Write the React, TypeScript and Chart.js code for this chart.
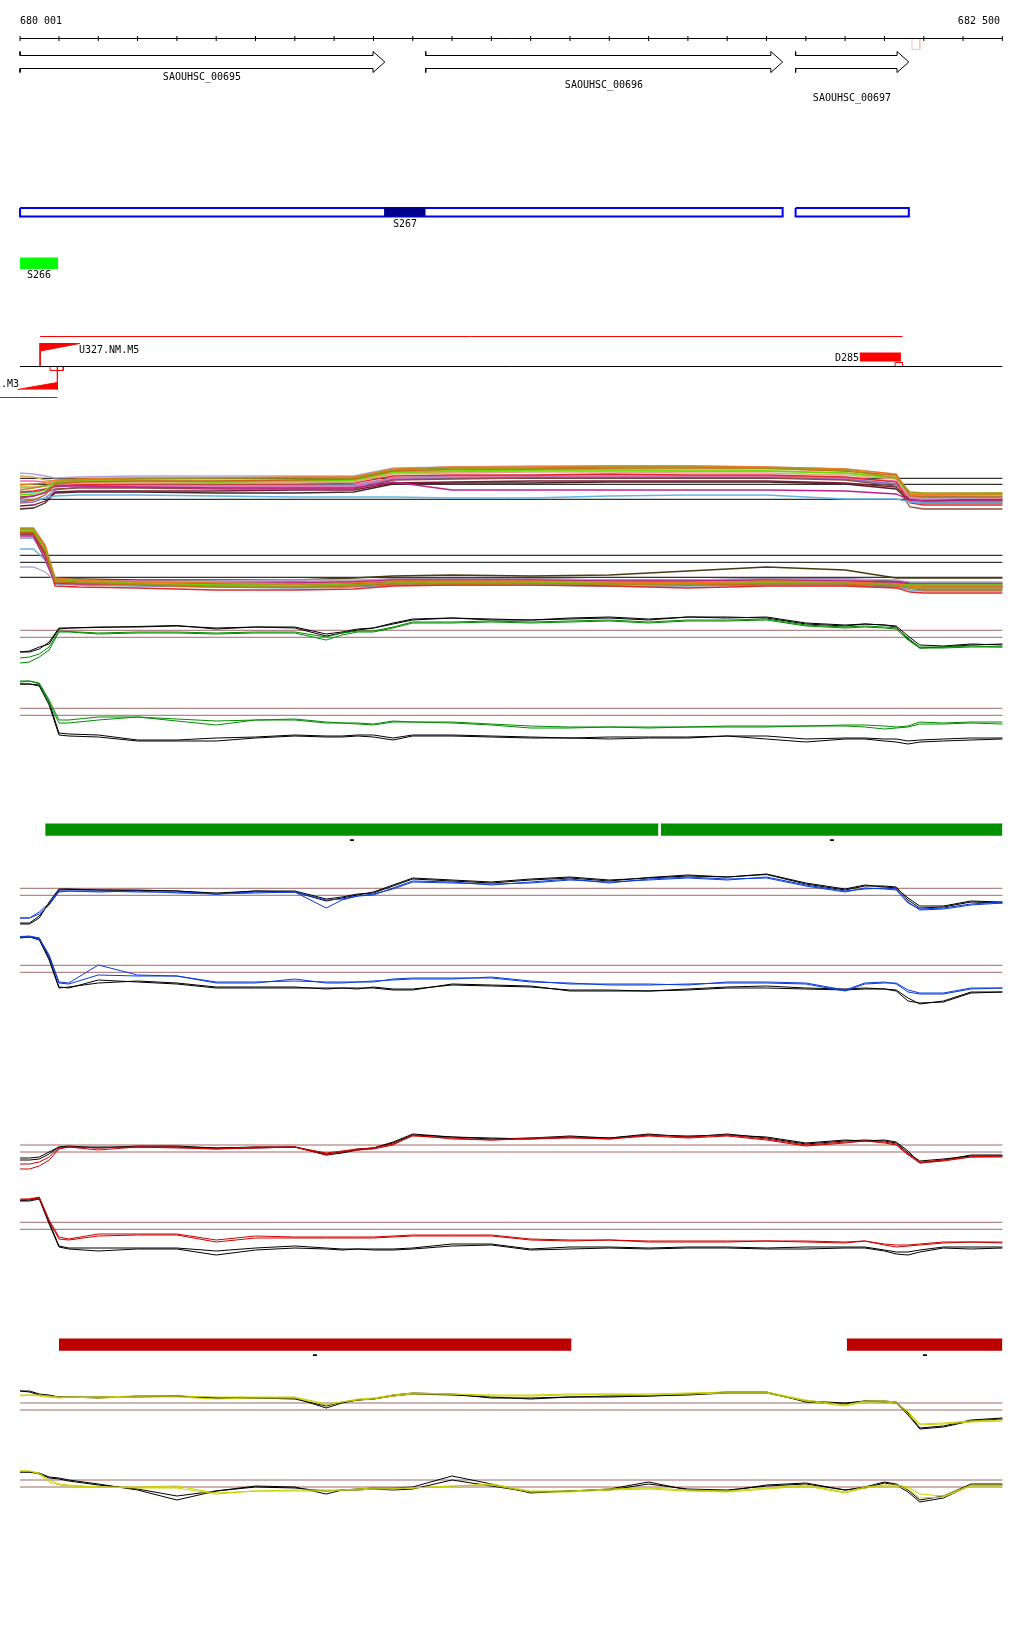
import React, { useEffect, useRef } from "react";
import { Chart, registerables } from "chart.js";
Chart.register(...registerables);

const FONT = '10px "DejaVu Sans Mono", monospace';
const DASH_FONT = 'bold 13px "DejaVu Sans Mono", monospace';

// ---------- genomic window ----------
const VIEW_START = 679950;
const VIEW_END = 682555;
const RULER_START = 680001;
const RULER_END = 682500;
const RULER_TICKS = [680001, 680100, 680200, 680300, 680400, 680500, 680600, 680700, 680800, 680900, 681000, 681100, 681200, 681300, 681400, 681500, 681600, 681700, 681800, 681900, 682000, 682100, 682200, 682300, 682400, 682500];
const RULER_LABELS = ["680 001", "682 500"];

// ---------- genes ----------
const GENE_NAMES = ["SAOUHSC_00695", "SAOUHSC_00696", "SAOUHSC_00697"];
const GENE_STARTS = [680001, 681033, 681974];
const GENE_ENDS = [680929, 681941, 682262];
const MARKER_RANGE = [682270, 682290];

// ---------- transcripts / segments ----------
const TRANSCRIPT_STARTS = [680001, 681974];
const TRANSCRIPT_ENDS = [681941, 682262];
const S267_RANGE = [680927, 681033];
const S266_RANGE = [680001, 680098];
const SEGMENT_NAMES = ["S267", "S266"];

// ---------- UTR / operon features ----------
const OPERON_RANGE = [680052, 682246];
const U327_RANGE = [680052, 680153];
const U327_BOX = [680077, 680111];
const M3_RANGE = [679995, 680096];
const M3_LINE = [679950, 680096];
const D285_RANGE = [682137, 682242];
const D285_BOX = [682227, 682246];
const FEATURE_NAMES = ["U327.NM.M5", ".M3", "D285"];

// ---------- bar tracks ----------
const GREEN_BAR_STARTS = [680065, 681631];
const GREEN_BAR_ENDS = [681625, 682500];
const RED_BAR_STARTS = [680100, 682104];
const RED_BAR_ENDS = [681404, 682500];
const BAR_LABEL = "-";

// ---------- expression: multi-sample tracks ----------
const MPOS = [680001, 680035, 680065, 680090, 680150, 680300, 680500, 680700, 680850, 680950, 681100, 681300, 681500, 681700, 681900, 682100, 682230, 682265, 682300, 682400, 682500];
const SAMPLE_COLORS = ["#9a9a1a", "#f07820", "#c8641e", "#60e000", "#c0208a", "#b4a4d4", "#64b4e6", "#e8a08c", "#e02828", "#8c5040", "#801838", "#e870b0", "#d4aa5a", "#8a6cc8", "#a8c828", "#402828", "#7894c4"];

const M1_S1 = [3.0, 3.2, 3.4, 3.8, 4.0, 4.1, 4.2, 4.2, 4.2, 5.0, 5.2, 5.2, 5.3, 5.3, 5.2, 5.0, 4.2, 2.8, 2.7, 2.7, 2.7];
const M1_S2 = [3.5, 3.6, 3.7, 4.0, 4.1, 4.2, 4.2, 4.3, 4.3, 5.1, 5.3, 5.3, 5.4, 5.4, 5.3, 5.1, 4.6, 2.6, 2.5, 2.6, 2.6];
const M1_S3 = [1.8, 2.0, 2.5, 3.6, 3.8, 3.9, 3.9, 4.0, 4.1, 4.9, 5.1, 5.1, 5.2, 5.2, 5.2, 4.9, 4.5, 2.4, 2.3, 2.3, 2.3];
const M1_S4 = [2.5, 2.6, 3.0, 3.7, 3.9, 3.9, 3.8, 3.9, 4.0, 4.8, 4.9, 5.0, 5.0, 4.9, 4.9, 4.7, 4.2, 2.5, 2.4, 2.5, 2.6];
const M1_S5 = [2.2, 2.4, 2.8, 3.4, 3.4, 3.3, 3.2, 3.2, 3.2, 3.8, 3.0, 3.0, 3.0, 3.0, 3.0, 2.9, 2.6, 2.0, 1.9, 1.9, 1.9];
const M1_S6 = [4.7, 4.6, 4.4, 4.2, 4.3, 4.4, 4.4, 4.4, 4.4, 5.2, 5.3, 5.4, 5.4, 5.4, 5.3, 5.1, 4.6, 2.3, 2.2, 2.2, 2.3];
const M1_S7 = [2.0, 2.0, 2.2, 2.4, 2.5, 2.5, 2.4, 2.3, 2.3, 2.3, 2.2, 2.2, 2.4, 2.5, 2.5, 2.1, 2.1, 1.8, 1.7, 1.7, 1.7];
const M1_S8 = [3.2, 3.3, 3.4, 3.6, 3.7, 3.7, 3.7, 3.7, 3.8, 4.6, 4.7, 4.8, 4.8, 4.7, 4.7, 4.5, 4.1, 2.3, 2.2, 2.2, 2.2];
const M1_S9 = [2.8, 2.9, 3.1, 3.4, 3.5, 3.6, 3.6, 3.6, 3.7, 4.4, 4.5, 4.5, 4.6, 4.5, 4.5, 4.3, 3.8, 1.7, 1.5, 1.5, 1.5];
const M1_S10 = [2.3, 2.4, 2.7, 3.1, 3.2, 3.2, 3.1, 3.1, 3.1, 4.0, 4.1, 4.2, 4.2, 4.2, 4.2, 4.0, 3.4, 1.3, 1.1, 1.1, 1.1];
const M1_S11 = [1.4, 1.5, 1.9, 2.8, 2.9, 2.9, 2.9, 3.0, 3.0, 3.7, 3.8, 3.9, 3.9, 3.9, 3.9, 3.7, 3.3, 2.0, 1.9, 2.0, 2.0];
const M1_S12 = [3.9, 3.9, 3.8, 3.6, 3.5, 3.4, 3.4, 3.4, 3.4, 4.2, 4.3, 4.4, 4.4, 4.4, 4.4, 4.2, 3.9, 2.1, 2.0, 2.0, 2.1];
const M1_S13 = [4.4, 4.3, 4.0, 3.9, 4.0, 4.0, 4.0, 4.0, 4.1, 4.9, 5.0, 5.1, 5.1, 5.1, 5.1, 4.9, 4.4, 2.7, 2.6, 2.6, 2.7];
const M1_S14 = [1.7, 1.8, 2.2, 3.0, 3.3, 3.3, 3.3, 3.3, 3.3, 4.1, 4.2, 4.3, 4.3, 4.3, 4.3, 4.1, 3.6, 2.2, 2.1, 2.1, 2.1];
const M1_S15 = [3.3, 3.3, 3.4, 3.6, 3.7, 3.8, 3.8, 3.8, 3.9, 4.7, 4.8, 4.9, 4.9, 4.9, 4.9, 4.7, 4.3, 2.6, 2.5, 2.5, 2.5];
const M1_S16 = [1.1, 1.2, 1.7, 2.7, 2.8, 2.8, 2.7, 2.7, 2.8, 3.6, 3.7, 3.7, 3.8, 3.8, 3.8, 3.6, 3.1, 1.8, 1.7, 1.7, 1.7];
const M1_S17 = [2.7, 2.8, 3.0, 3.3, 3.5, 3.5, 3.5, 3.5, 3.5, 4.2, 4.4, 4.4, 4.4, 4.3, 4.3, 4.1, 3.6, 2.3, 2.3, 2.4, 2.4];
const M1_LEVELS = [4.17, 3.57, 2.07];

const M2_S1 = [7.1, 7.1, 5.2, 2.0, 1.8, 1.6, 1.4, 1.3, 1.5, 1.7, 1.7, 1.7, 1.6, 1.6, 1.7, 1.7, 1.5, 1.2, 1.1, 1.1, 1.1];
const M2_S2 = [7.2, 7.2, 5.5, 2.2, 2.0, 1.8, 1.7, 1.6, 1.7, 1.9, 1.9, 1.9, 1.8, 1.7, 1.9, 1.8, 1.6, 1.4, 1.3, 1.3, 1.3];
const M2_S3 = [6.7, 6.7, 4.8, 1.8, 1.7, 1.5, 1.3, 1.3, 1.4, 1.6, 1.6, 1.6, 1.6, 1.5, 1.6, 1.6, 1.4, 1.2, 1.0, 1.0, 1.0];
const M2_S4 = [6.9, 6.9, 5.0, 2.0, 1.9, 1.7, 1.5, 1.5, 1.5, 1.7, 1.8, 1.8, 1.7, 1.7, 1.8, 1.7, 1.6, 1.5, 1.5, 1.5, 1.5];
const M2_S5 = [6.4, 6.4, 4.0, 1.7, 1.6, 1.6, 1.6, 1.7, 1.8, 2.0, 2.0, 2.0, 1.9, 1.9, 2.0, 1.9, 1.8, 1.6, 1.6, 1.6, 1.6];
const M2_S6 = [3.3, 3.3, 2.8, 1.9, 1.8, 1.8, 1.9, 2.0, 2.0, 2.1, 2.1, 2.1, 2.0, 2.0, 2.1, 2.1, 2.0, 1.8, 1.8, 1.8, 1.8];
const M2_S7 = [5.1, 5.1, 4.0, 1.8, 1.7, 1.5, 1.4, 1.4, 1.5, 1.7, 1.7, 1.6, 1.6, 1.5, 1.6, 1.6, 1.5, 1.3, 1.2, 1.2, 1.2];
const M2_S8 = [7.0, 7.0, 5.1, 1.9, 1.8, 1.6, 1.5, 1.4, 1.5, 1.7, 1.7, 1.7, 1.6, 1.6, 1.7, 1.7, 1.5, 1.2, 1.1, 1.1, 1.1];
const M2_S9 = [6.8, 6.8, 4.7, 1.4, 1.3, 1.2, 1.0, 1.0, 1.1, 1.4, 1.5, 1.5, 1.4, 1.2, 1.4, 1.4, 1.2, 0.8, 0.7, 0.7, 0.7];
const M2_S10 = [7.1, 7.1, 5.3, 2.0, 1.9, 1.8, 1.6, 1.6, 1.7, 1.8, 1.8, 1.8, 1.8, 1.7, 1.8, 1.8, 1.7, 1.5, 1.4, 1.4, 1.4];
const M2_S11 = [6.6, 6.6, 4.5, 1.8, 1.7, 1.6, 1.5, 1.5, 1.6, 1.7, 1.7, 1.7, 1.7, 1.6, 1.7, 1.7, 1.6, 1.4, 1.3, 1.3, 1.3];
const M2_S12 = [7.0, 7.0, 5.3, 2.1, 2.0, 1.9, 1.8, 1.8, 1.9, 2.0, 2.0, 2.0, 1.9, 1.9, 2.0, 2.0, 1.8, 1.6, 1.6, 1.6, 1.6];
const M2_S13 = [6.5, 6.5, 4.4, 1.7, 1.6, 1.5, 1.4, 1.4, 1.5, 1.7, 1.6, 1.6, 1.6, 1.6, 1.7, 1.7, 1.5, 1.3, 1.3, 1.3, 1.3];
const M2_S14 = [6.9, 6.9, 4.9, 1.9, 1.8, 1.7, 1.6, 1.5, 1.6, 1.8, 1.8, 1.8, 1.7, 1.7, 1.8, 1.7, 1.6, 1.4, 1.4, 1.4, 1.4];
const M2_S15 = [7.0, 7.0, 5.2, 2.1, 2.1, 2.0, 2.0, 2.0, 2.2, 2.4, 2.5, 2.4, 2.5, 2.9, 3.3, 3.0, 2.2, 2.2, 2.2, 2.2, 2.2];
const M2_S16 = [6.7, 6.7, 4.8, 2.0, 1.9, 1.8, 1.8, 1.8, 1.9, 2.1, 2.1, 2.1, 2.0, 2.0, 2.1, 2.1, 1.9, 1.7, 1.7, 1.7, 1.7];
const M2_S17 = [6.2, 6.2, 4.2, 1.6, 1.5, 1.4, 1.3, 1.2, 1.3, 1.5, 1.5, 1.5, 1.4, 1.4, 1.5, 1.5, 1.3, 1.0, 0.9, 0.9, 0.9];
const M2_LEVELS = [4.47, 3.77, 2.27];

// ---------- expression: paired tracks ----------
const POS = [680001, 680025, 680050, 680075, 680100, 680125, 680200, 680300, 680400, 680500, 680600, 680700, 680780, 680820, 680860, 680900, 680950, 681000, 681100, 681200, 681300, 681400, 681500, 681600, 681700, 681800, 681900, 682000, 682100, 682150, 682200, 682230, 682260, 682290, 682350, 682420, 682500];

const G_UP_BLACK_A = [1.8, 1.9, 2.3, 2.6, 4.1, 4.2, 4.25, 4.35, 4.45, 4.1, 4.3, 4.3, 3.6, 3.8, 4.1, 4.2, 4.6, 5.0, 5.2, 5.0, 5.0, 5.1, 5.2, 5.0, 5.3, 5.2, 5.3, 4.7, 4.5, 4.6, 4.5, 4.4, 3.4, 2.5, 2.4, 2.6, 2.5];
const G_UP_BLACK_B = [1.8, 1.8, 2.1, 2.8, 4.2, 4.2, 4.3, 4.3, 4.4, 4.2, 4.3, 4.2, 3.4, 3.7, 4.0, 4.2, 4.7, 5.1, 5.2, 5.1, 5.0, 5.2, 5.3, 5.1, 5.3, 5.3, 5.2, 4.6, 4.4, 4.6, 4.5, 4.3, 3.1, 2.2, 2.3, 2.5, 2.6];
const G_UP_GREEN_A = [1.2, 1.3, 1.6, 2.3, 3.9, 3.85, 3.7, 3.8, 3.8, 3.7, 3.8, 3.8, 3.3, 3.7, 3.9, 3.9, 4.3, 4.8, 4.8, 4.9, 4.8, 4.9, 5.0, 4.8, 5.0, 5.0, 5.1, 4.5, 4.3, 4.4, 4.3, 4.2, 3.2, 2.3, 2.3, 2.4, 2.3];
const G_UP_GREEN_B = [0.7, 0.8, 1.3, 2.0, 3.8, 3.8, 3.6, 3.7, 3.7, 3.6, 3.7, 3.7, 3.0, 3.5, 3.8, 3.8, 4.2, 4.7, 4.7, 4.8, 4.7, 4.8, 4.9, 4.7, 4.9, 4.9, 5.0, 4.4, 4.2, 4.3, 4.2, 4.1, 3.0, 2.2, 2.2, 2.3, 2.3];
const G_UP_LEVELS = [3.97, 3.27];

const G_DN_BLACK_A = [6.6, 6.6, 6.5, 4.8, 1.7, 1.6, 1.5, 1.0, 1.0, 1.2, 1.3, 1.5, 1.4, 1.4, 1.5, 1.5, 1.2, 1.5, 1.5, 1.4, 1.3, 1.2, 1.3, 1.3, 1.3, 1.4, 1.4, 1.1, 1.2, 1.2, 1.1, 1.1, 0.9, 1.0, 1.1, 1.2, 1.2];
const G_DN_BLACK_B = [6.6, 6.6, 6.4, 4.5, 1.5, 1.4, 1.3, 0.9, 0.9, 0.9, 1.2, 1.4, 1.3, 1.3, 1.4, 1.3, 1.0, 1.4, 1.4, 1.3, 1.2, 1.2, 1.1, 1.2, 1.2, 1.4, 1.1, 0.8, 1.1, 1.1, 0.9, 0.8, 0.6, 0.8, 0.9, 1.0, 1.1];
const G_DN_GREEN_A = [6.9, 6.9, 6.7, 5.0, 3.0, 3.0, 3.3, 3.3, 3.1, 2.9, 3.0, 3.1, 2.8, 2.7, 2.7, 2.6, 2.9, 2.8, 2.8, 2.6, 2.4, 2.3, 2.3, 2.3, 2.3, 2.4, 2.4, 2.4, 2.5, 2.5, 2.4, 2.3, 2.4, 2.8, 2.7, 2.8, 2.8];
const G_DN_GREEN_B = [6.8, 6.9, 6.6, 4.7, 2.7, 2.7, 3.0, 3.3, 2.9, 2.5, 3.0, 3.0, 2.7, 2.7, 2.6, 2.5, 2.8, 2.8, 2.7, 2.5, 2.2, 2.2, 2.3, 2.2, 2.3, 2.3, 2.3, 2.4, 2.4, 2.3, 2.1, 2.2, 2.3, 2.6, 2.6, 2.7, 2.6];
const G_DN_LEVELS = [4.17, 3.47];

const B_UP_BLACK_A = [0.7, 0.7, 1.4, 2.6, 4.0, 4.05, 4.0, 3.95, 3.9, 3.7, 3.9, 3.9, 3.1, 3.3, 3.6, 3.7, 4.4, 5.1, 4.9, 4.7, 5.0, 5.2, 4.9, 5.25, 5.5, 5.3, 5.55, 4.6, 4.0, 4.4, 4.4, 4.3, 3.0, 2.2, 2.3, 2.8, 2.7];
const B_UP_BLACK_B = [0.6, 0.6, 1.2, 2.8, 4.1, 4.1, 4.0, 4.0, 3.9, 3.6, 3.9, 3.8, 2.9, 3.2, 3.5, 3.8, 4.5, 5.2, 5.0, 4.8, 5.1, 5.3, 5.0, 5.2, 5.4, 5.3, 5.6, 4.7, 4.1, 4.5, 4.3, 4.2, 3.2, 2.4, 2.4, 2.9, 2.8];
const B_UP_BLUE_A = [1.2, 1.2, 1.6, 2.5, 3.8, 3.9, 3.9, 3.8, 3.8, 3.6, 3.8, 3.8, 2.2, 3.0, 3.4, 3.6, 4.1, 4.8, 4.7, 4.6, 4.7, 5.0, 4.8, 5.0, 5.2, 5.0, 5.3, 4.5, 3.9, 4.1, 4.2, 4.1, 2.8, 2.0, 2.1, 2.5, 2.7];
const B_UP_BLUE_B = [1.2, 1.2, 1.8, 2.7, 3.9, 3.9, 3.8, 3.9, 3.7, 3.6, 3.7, 3.8, 3.0, 3.1, 3.4, 3.5, 4.2, 4.9, 4.8, 4.5, 4.8, 5.1, 4.7, 5.1, 5.3, 5.1, 5.2, 4.4, 3.8, 4.2, 4.1, 4.0, 2.7, 2.1, 2.2, 2.6, 2.8];
const B_UP_LEVELS = [4.17, 3.47];

const B_DN_BLACK_A = [7.3, 7.3, 7.2, 5.2, 2.3, 2.2, 3.0, 2.8, 2.6, 2.2, 2.2, 2.2, 2.2, 2.2, 2.2, 2.2, 2.0, 2.0, 2.6, 2.5, 2.4, 1.9, 1.9, 1.9, 2.0, 2.2, 2.2, 2.1, 2.0, 2.1, 2.1, 2.0, 1.2, 0.6, 0.9, 1.8, 1.8];
const B_DN_BLACK_B = [7.2, 7.3, 7.0, 5.0, 2.2, 2.3, 2.7, 2.9, 2.7, 2.3, 2.3, 2.3, 2.1, 2.2, 2.1, 2.3, 2.1, 2.1, 2.5, 2.4, 2.3, 2.0, 2.0, 1.9, 2.1, 2.3, 2.4, 2.2, 2.1, 2.2, 2.1, 1.9, 0.9, 0.7, 0.8, 1.7, 1.8];
const B_DN_BLUE_A = [7.35, 7.4, 7.2, 5.5, 2.8, 2.7, 4.5, 3.5, 3.4, 2.8, 2.8, 2.9, 2.8, 2.8, 2.8, 2.8, 3.1, 3.2, 3.2, 3.2, 2.8, 2.7, 2.5, 2.5, 2.6, 2.7, 2.7, 2.6, 1.9, 2.6, 2.7, 2.7, 2.0, 1.7, 1.7, 2.2, 2.2];
const B_DN_BLUE_B = [7.3, 7.3, 7.1, 5.4, 2.7, 2.6, 3.5, 3.4, 3.4, 2.7, 2.7, 3.1, 2.7, 2.7, 2.8, 2.9, 3.0, 3.1, 3.1, 3.3, 2.9, 2.6, 2.6, 2.6, 2.5, 2.8, 2.8, 2.7, 2.0, 2.7, 2.8, 2.6, 1.8, 1.6, 1.6, 2.1, 2.2];
const B_DN_LEVELS = [4.47, 3.77];

const R_UP_BLACK_A = [2.2, 2.2, 2.3, 2.8, 3.3, 3.4, 3.2, 3.4, 3.4, 3.2, 3.3, 3.3, 2.6, 2.8, 3.1, 3.2, 3.7, 4.5, 4.3, 4.1, 4.2, 4.4, 4.2, 4.6, 4.3, 4.6, 4.2, 3.6, 3.9, 4.0, 3.9, 3.7, 2.7, 1.9, 2.1, 2.4, 2.4];
const R_UP_BLACK_B = [2.0, 2.0, 2.1, 2.6, 3.3, 3.3, 3.3, 3.3, 3.3, 3.2, 3.2, 3.3, 2.5, 2.7, 3.0, 3.2, 3.8, 4.6, 4.3, 4.2, 4.1, 4.3, 4.2, 4.5, 4.4, 4.5, 4.3, 3.7, 4.0, 3.9, 4.0, 3.8, 2.9, 1.7, 2.0, 2.5, 2.5];
const R_UP_RED_A = [1.6, 1.6, 1.8, 2.3, 3.2, 3.3, 3.2, 3.3, 3.3, 3.1, 3.3, 3.3, 2.7, 2.9, 3.1, 3.2, 3.6, 4.4, 4.2, 4.0, 4.2, 4.3, 4.1, 4.5, 4.3, 4.5, 4.1, 3.5, 3.8, 3.9, 3.8, 3.6, 2.6, 1.8, 2.0, 2.3, 2.4];
const R_UP_RED_B = [1.1, 1.1, 1.4, 2.0, 3.1, 3.3, 3.0, 3.3, 3.2, 3.1, 3.2, 3.3, 2.5, 2.8, 3.0, 3.1, 3.5, 4.5, 4.1, 4.0, 4.1, 4.2, 4.1, 4.4, 4.2, 4.4, 4.0, 3.4, 3.7, 3.9, 3.7, 3.5, 2.5, 1.7, 1.9, 2.3, 2.3];
const R_UP_LEVELS = [3.5, 2.8];

const R_DN_BLACK_A = [5.95, 6.0, 6.2, 3.8, 1.4, 1.2, 1.2, 1.2, 1.2, 0.9, 1.2, 1.4, 1.2, 1.1, 1.1, 1.1, 1.1, 1.2, 1.6, 1.6, 1.1, 1.3, 1.3, 1.2, 1.3, 1.3, 1.2, 1.3, 1.3, 1.3, 1.0, 0.8, 0.8, 1.0, 1.3, 1.3, 1.3];
const R_DN_BLACK_B = [5.9, 5.9, 6.1, 3.6, 1.3, 1.1, 0.9, 1.1, 1.1, 0.5, 1.0, 1.2, 1.1, 1.0, 1.1, 1.0, 1.0, 1.1, 1.4, 1.5, 1.0, 1.1, 1.2, 1.1, 1.2, 1.2, 1.1, 1.1, 1.2, 1.2, 0.9, 0.6, 0.5, 0.8, 1.2, 1.1, 1.2];
const R_DN_RED_A = [6.1, 6.1, 6.3, 4.0, 2.3, 2.1, 2.6, 2.6, 2.6, 2.0, 2.4, 2.3, 2.3, 2.3, 2.3, 2.3, 2.4, 2.5, 2.5, 2.5, 2.1, 2.0, 2.0, 1.9, 1.9, 1.9, 1.9, 1.9, 1.8, 1.9, 1.6, 1.5, 1.5, 1.6, 1.8, 1.8, 1.8];
const R_DN_RED_B = [6.0, 6.1, 6.2, 3.9, 2.1, 2.0, 2.4, 2.5, 2.5, 1.8, 2.2, 2.2, 2.2, 2.2, 2.2, 2.2, 2.3, 2.4, 2.4, 2.4, 2.0, 1.9, 2.0, 1.8, 1.8, 1.8, 1.9, 1.8, 1.7, 1.9, 1.5, 1.3, 1.4, 1.5, 1.7, 1.8, 1.7];
const R_DN_LEVELS = [3.77, 3.07];

const Y_UP_BLACK_A = [4.9, 4.9, 4.6, 4.5, 4.3, 4.3, 4.2, 4.4, 4.4, 4.2, 4.2, 4.2, 3.2, 3.7, 4.0, 4.1, 4.5, 4.7, 4.6, 4.2, 4.2, 4.3, 4.4, 4.4, 4.6, 4.8, 4.8, 3.8, 3.6, 3.9, 3.9, 3.8, 2.7, 1.2, 1.4, 2.0, 2.2];
const Y_UP_BLACK_B = [4.9, 4.8, 4.5, 4.4, 4.3, 4.3, 4.3, 4.3, 4.4, 4.2, 4.2, 4.1, 3.4, 3.8, 4.0, 4.1, 4.4, 4.6, 4.5, 4.3, 4.1, 4.3, 4.3, 4.4, 4.5, 4.7, 4.7, 3.9, 3.7, 3.9, 3.8, 3.7, 2.5, 1.1, 1.3, 1.9, 2.1];
const Y_UP_YELLOW_A = [4.5, 4.5, 4.5, 4.4, 4.3, 4.3, 4.3, 4.4, 4.4, 4.3, 4.3, 4.3, 3.6, 3.8, 4.1, 4.2, 4.5, 4.7, 4.6, 4.5, 4.5, 4.6, 4.6, 4.6, 4.7, 4.8, 4.8, 4.0, 3.5, 3.9, 3.9, 3.8, 2.8, 1.6, 1.7, 1.9, 2.0];
const Y_UP_YELLOW_B = [4.4, 4.5, 4.4, 4.3, 4.2, 4.3, 4.2, 4.3, 4.3, 4.1, 4.2, 4.2, 3.5, 3.8, 4.0, 4.1, 4.4, 4.6, 4.6, 4.4, 4.4, 4.5, 4.6, 4.5, 4.6, 4.7, 4.7, 3.9, 3.4, 3.8, 3.8, 3.7, 2.6, 1.5, 1.6, 1.8, 1.9];
const Y_UP_LEVELS = [3.7, 3.0];

const Y_DN_BLACK_A = [3.8, 3.8, 3.7, 3.3, 3.2, 3.0, 2.6, 2.0, 1.0, 1.9, 2.4, 2.3, 1.6, 2.0, 2.1, 2.2, 2.2, 2.3, 3.4, 2.6, 1.7, 1.9, 2.1, 2.8, 2.0, 1.9, 2.5, 2.7, 2.0, 2.3, 2.8, 2.6, 2.0, 1.0, 1.4, 2.6, 2.6];
const Y_DN_BLACK_B = [3.8, 3.8, 3.6, 3.2, 3.1, 2.9, 2.5, 2.1, 1.4, 1.9, 2.3, 2.2, 1.9, 2.0, 2.0, 2.1, 2.0, 2.1, 3.0, 2.4, 1.8, 1.9, 2.0, 2.6, 2.1, 2.0, 2.4, 2.6, 2.0, 2.2, 2.7, 2.5, 1.8, 0.8, 1.2, 2.5, 2.5];
const Y_DN_YELLOW_A = [3.9, 3.9, 3.7, 3.0, 2.6, 2.5, 2.3, 2.3, 2.4, 1.7, 1.9, 2.0, 2.0, 2.0, 2.1, 2.2, 2.2, 2.2, 2.4, 2.6, 1.9, 1.9, 2.1, 2.2, 2.0, 1.9, 2.2, 2.5, 1.8, 2.3, 2.5, 2.5, 2.3, 1.6, 1.4, 2.5, 2.5];
const Y_DN_YELLOW_B = [3.9, 3.9, 3.6, 2.8, 2.5, 2.4, 2.3, 2.2, 2.2, 1.6, 1.9, 1.9, 1.9, 2.0, 2.0, 2.1, 2.1, 2.2, 2.4, 2.5, 1.8, 1.8, 2.0, 2.1, 1.9, 1.8, 2.1, 2.4, 1.7, 2.2, 2.4, 2.4, 2.1, 1.2, 1.3, 2.4, 2.4];
const Y_DN_LEVELS = [3.0, 2.3];

// ---------- styles ----------
const BLACK = "#000000";
const LEVEL_BROWN = "#a06868";
const GREEN = "#008c00";
const BLUE = "#0a3cdc";
const RED_LINE = "#cc0000";
const YELLOW = "#c8d200";

type Pt = { x: number; y: number };
type Label = { x: number; y: number; text: string; align: CanvasTextAlign; dx?: number; font?: string };

const zip = (xs: number[], ys: number[]): Pt[] => xs.map((x, i) => ({ x, y: ys[i] }));

const line = (points: Pt[], color: string, width = 1, extra: any = {}) => ({
  type: "line",
  data: points,
  borderColor: color,
  borderWidth: width,
  pointRadius: 0,
  fill: false,
  tension: 0,
  ...extra,
});
const hline = (x0: number, x1: number, y: number, color: string, width = 1) =>
  line([{ x: x0, y }, { x: x1, y }], color, width);
const vline = (x: number, y0: number, y1: number, color: string, width = 1) =>
  line([{ x, y: y0 }, { x, y: y1 }], color, width);
const rectOutline = (x0: number, x1: number, y0: number, y1: number, color: string, width = 1) =>
  line([{ x: x0, y: y0 }, { x: x1, y: y0 }, { x: x1, y: y1 }, { x: x0, y: y1 }, { x: x0, y: y0 }], color, width);
const rectFill = (x0: number, x1: number, y0: number, y1: number, color: string) =>
  line([{ x: x0, y: y0 }, { x: x1, y: y0 }], color, 1, { fill: { value: y1 }, backgroundColor: color });
const wedge = (x0: number, y0: number, x1: number, y1: number, base: number, color: string) =>
  line([{ x: x0, y: y0 }, { x: x1, y: y1 }], color, 1, { fill: { value: base }, backgroundColor: color });

// ---------- layout (annotation lanes in canvas rows) ----------
const RULER_Y = 38.5;
const RULER_LABEL_Y = 20.5;
const GENE_TOP = 51.5, GENE_BODY_TOP = 55.5, GENE_MID = 62, GENE_BODY_BOT = 68.5, GENE_BOT = 72.5;
const GENE_HEAD_BP = 30;
const GENE_LABEL_ROWS = [76.5, 85, 97.5];

const arrow = (s: number, e: number) => {
  const hs = e - GENE_HEAD_BP;
  return line(
    [
      { x: s, y: GENE_TOP }, { x: s, y: GENE_BODY_TOP }, { x: hs, y: GENE_BODY_TOP }, { x: hs, y: GENE_TOP },
      { x: e, y: GENE_MID }, { x: hs, y: GENE_BOT }, { x: hs, y: GENE_BODY_BOT }, { x: s, y: GENE_BODY_BOT }, { x: s, y: GENE_BOT },
    ],
    BLACK
  );
};

function annotationPanel() {
  const ds: any[] = [];
  const labels: Label[] = [];
  ds.push(hline(RULER_START, RULER_END, RULER_Y, BLACK));
  ds.push(
    line(RULER_TICKS.map((x) => ({ x, y: RULER_Y })), BLACK, 1, {
      showLine: false,
      pointStyle: "line",
      pointRadius: 2.5,
      pointRotation: 90,
      pointBorderColor: BLACK,
      pointBorderWidth: 1,
    })
  );
  labels.push({ x: RULER_START, y: RULER_LABEL_Y, text: RULER_LABELS[0], align: "left" });
  labels.push({ x: RULER_END, y: RULER_LABEL_Y, text: RULER_LABELS[1], align: "right", dx: -2 });
  ds.push(rectOutline(MARKER_RANGE[0], MARKER_RANGE[1], 38.5, 49.5, "#f8c8b4"));
  GENE_NAMES.forEach((name, i) => {
    ds.push(arrow(GENE_STARTS[i], GENE_ENDS[i]));
    labels.push({ x: (GENE_STARTS[i] + GENE_ENDS[i]) / 2, y: GENE_LABEL_ROWS[i], text: name, align: "center" });
  });
  ds.push(rectFill(S267_RANGE[0], S267_RANGE[1], 208, 216.5, "#00008c"));
  TRANSCRIPT_STARTS.forEach((s, i) => ds.push(rectOutline(s, TRANSCRIPT_ENDS[i], 208, 216.5, "#0000ee", 2)));
  labels.push({ x: (S267_RANGE[0] + S267_RANGE[1]) / 2, y: 223.5, text: SEGMENT_NAMES[0], align: "center" });
  ds.push(rectFill(S266_RANGE[0], S266_RANGE[1], 258, 269, "#00ff00"));
  labels.push({ x: (S266_RANGE[0] + S266_RANGE[1]) / 2, y: 275, text: SEGMENT_NAMES[1], align: "center" });
  const RED = "#ff0000";
  ds.push(hline(OPERON_RANGE[0], OPERON_RANGE[1], 336.5, RED));
  ds.push(hline(RULER_START, RULER_END, 366.5, BLACK));
  ds.push(vline(U327_RANGE[0], 343, 366, RED));
  ds.push(wedge(U327_RANGE[0], 351, U327_RANGE[1], 343.5, 343, RED));
  labels.push({ x: U327_RANGE[1], y: 349.5, text: FEATURE_NAMES[0], align: "left", dx: -1 });
  ds.push(rectOutline(U327_BOX[0], U327_BOX[1], 366.5, 370.5, RED));
  ds.push(vline(M3_RANGE[1], 367, 389.5, RED));
  ds.push(wedge(M3_RANGE[0], 389.5, M3_RANGE[1], 382.5, 389.5, RED));
  labels.push({ x: M3_RANGE[0], y: 383.5, text: FEATURE_NAMES[1], align: "right", dx: 1 });
  ds.push(hline(M3_LINE[0], M3_LINE[1], 397.5, RED));
  ds.push(rectFill(D285_RANGE[0], D285_RANGE[1], 353, 361.5, RED));
  labels.push({ x: D285_RANGE[0], y: 357.5, text: FEATURE_NAMES[2], align: "right", dx: -1 });
  ds.push(rectOutline(D285_BOX[0], D285_BOX[1], 362.5, 366.5, RED));
  return { top: 0, height: 410, yMin: 0, yMax: 410, reverse: true, datasets: ds, labels };
}

function barPanel(top: number, starts: number[], ends: number[], color: string, barTop: number, barBot: number, labelY: number) {
  const ds: any[] = [];
  const labels: Label[] = [];
  starts.forEach((s, i) => {
    ds.push(rectFill(s, ends[i], barTop, barBot, color));
    labels.push({ x: (s + ends[i]) / 2, y: labelY, text: BAR_LABEL, align: "center", font: DASH_FONT });
  });
  return { top, height: 40, yMin: 0, yMax: 40, reverse: true, datasets: ds, labels };
}

function exprPanel(top: number, height: number, xs: number[], series: { v: number[]; c: string }[], levels: number[], levelColor: string, width = 1) {
  const ds: any[] = [];
  series.forEach((s) => ds.push(line(zip(xs, s.v), s.c, width)));
  levels.forEach((lv) => ds.push(hline(RULER_START, RULER_END, lv, levelColor)));
  return { top, height, yMin: 0, yMax: height / 10, reverse: false, datasets: ds, labels: [] as Label[] };
}

const M1 = [M1_S1, M1_S2, M1_S3, M1_S4, M1_S5, M1_S6, M1_S7, M1_S8, M1_S9, M1_S10, M1_S11, M1_S12, M1_S13, M1_S14, M1_S15, M1_S16, M1_S17];
const M2 = [M2_S1, M2_S2, M2_S3, M2_S4, M2_S5, M2_S6, M2_S7, M2_S8, M2_S9, M2_S10, M2_S11, M2_S12, M2_S13, M2_S14, M2_S15, M2_S16, M2_S17];

function buildPanels() {
  return [
    annotationPanel(),
    exprPanel(450, 70, MPOS, M1.map((v, i) => ({ v, c: SAMPLE_COLORS[i] })), M1_LEVELS, BLACK, 1.3),
    exprPanel(520, 80, MPOS, M2.map((v, i) => ({ v, c: i === 14 ? "#4a3a10" : SAMPLE_COLORS[i] })), M2_LEVELS, BLACK, 1.3),
    exprPanel(600, 70, POS, [{ v: G_UP_GREEN_A, c: GREEN }, { v: G_UP_GREEN_B, c: GREEN }, { v: G_UP_BLACK_A, c: BLACK }, { v: G_UP_BLACK_B, c: BLACK }], G_UP_LEVELS, LEVEL_BROWN),
    exprPanel(670, 80, POS, [{ v: G_DN_GREEN_A, c: GREEN }, { v: G_DN_GREEN_B, c: GREEN }, { v: G_DN_BLACK_A, c: BLACK }, { v: G_DN_BLACK_B, c: BLACK }], G_DN_LEVELS, LEVEL_BROWN),
    barPanel(810, GREEN_BAR_STARTS, GREEN_BAR_ENDS, "#009000", 14, 25.7, 31),
    exprPanel(860, 70, POS, [{ v: B_UP_BLUE_A, c: BLUE }, { v: B_UP_BLUE_B, c: BLUE }, { v: B_UP_BLACK_A, c: BLACK }, { v: B_UP_BLACK_B, c: BLACK }], B_UP_LEVELS, LEVEL_BROWN),
    exprPanel(930, 80, POS, [{ v: B_DN_BLUE_A, c: BLUE }, { v: B_DN_BLUE_B, c: BLUE }, { v: B_DN_BLACK_A, c: BLACK }, { v: B_DN_BLACK_B, c: BLACK }], B_DN_LEVELS, LEVEL_BROWN),
    exprPanel(1120, 60, POS, [{ v: R_UP_RED_A, c: RED_LINE }, { v: R_UP_RED_B, c: RED_LINE }, { v: R_UP_BLACK_A, c: BLACK }, { v: R_UP_BLACK_B, c: BLACK }], R_UP_LEVELS, LEVEL_BROWN),
    exprPanel(1180, 80, POS, [{ v: R_DN_RED_A, c: RED_LINE }, { v: R_DN_RED_B, c: RED_LINE }, { v: R_DN_BLACK_A, c: BLACK }, { v: R_DN_BLACK_B, c: BLACK }], R_DN_LEVELS, LEVEL_BROWN),
    barPanel(1330, RED_BAR_STARTS, RED_BAR_ENDS, "#bb0000", 9, 20.7, 26),
    exprPanel(1370, 70, POS, [{ v: Y_UP_YELLOW_A, c: YELLOW }, { v: Y_UP_YELLOW_B, c: YELLOW }, { v: Y_UP_BLACK_A, c: BLACK }, { v: Y_UP_BLACK_B, c: BLACK }], Y_UP_LEVELS, LEVEL_BROWN),
    exprPanel(1450, 60, POS, [{ v: Y_DN_YELLOW_A, c: YELLOW }, { v: Y_DN_YELLOW_B, c: YELLOW }, { v: Y_DN_BLACK_A, c: BLACK }, { v: Y_DN_BLACK_B, c: BLACK }], Y_DN_LEVELS, LEVEL_BROWN),
  ];
}

const PANELS = buildPanels();

function textPlugin(labels: Label[]) {
  return {
    id: "trackText",
    afterDatasetsDraw(chart: any) {
      const ctx = chart.ctx;
      const xs = chart.scales.x;
      const ys = chart.scales.y;
      ctx.save();
      ctx.fillStyle = "#000";
      ctx.textBaseline = "middle";
      for (const l of labels) {
        ctx.font = l.font || FONT;
        ctx.textAlign = l.align;
        ctx.fillText(l.text, Math.round(xs.getPixelForValue(l.x) + (l.dx || 0)), Math.round(ys.getPixelForValue(l.y)));
      }
      ctx.restore();
    },
  };
}

export default function App() {
  const refs = useRef<(HTMLCanvasElement | null)[]>([]);
  useEffect(() => {
    const charts = PANELS.map((p, i) => {
      const canvas = refs.current[i]!;
      return new Chart(canvas, {
        type: "line",
        data: { datasets: p.datasets },
        options: {
          responsive: false,
          maintainAspectRatio: false,
          animation: false,
          devicePixelRatio: 1,
          events: [],
          layout: { padding: 0, autoPadding: false },
          plugins: { legend: { display: false }, tooltip: { enabled: false } },
          scales: {
            x: { type: "linear", min: VIEW_START, max: VIEW_END, display: false },
            y: { type: "linear", min: p.yMin, max: p.yMax, reverse: p.reverse, display: false },
          },
        },
        plugins: [textPlugin(p.labels)],
      } as any);
    });
    return () => charts.forEach((c) => c.destroy());
  }, []);
  return (
    <div style={{ position: "absolute", left: 0, top: 0, width: 1024, height: 1640, background: "#ffffff" }}>
      {PANELS.map((p, i) => (
        <canvas
          key={i}
          ref={(el) => {
            refs.current[i] = el;
          }}
          width={1024}
          height={p.height}
          style={{ position: "absolute", left: 0, top: p.top, width: 1024, height: p.height }}
        />
      ))}
    </div>
  );
}
